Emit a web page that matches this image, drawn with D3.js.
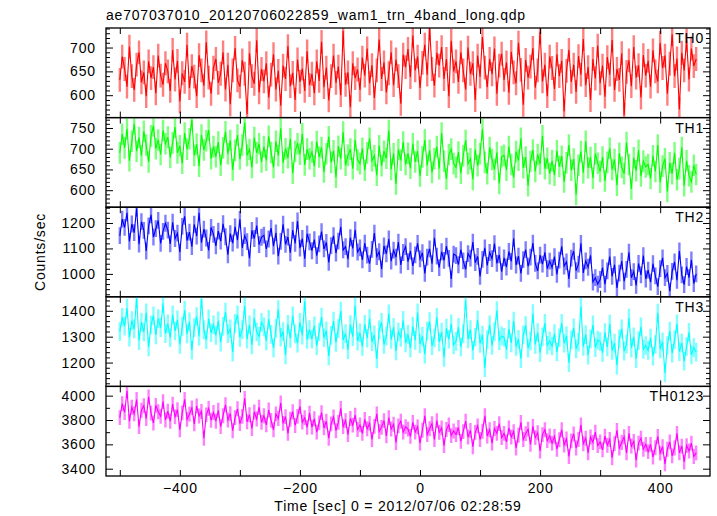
<!DOCTYPE html>
<html><head><meta charset="utf-8">
<script src="https://cdn.jsdelivr.net/npm/d3@7"></script>
<style>
body{margin:0;background:#fff;}
text{font-family:"Liberation Sans",Arial,Helvetica,sans-serif;font-size:14px;letter-spacing:0.8px;fill:#000;}
</style></head><body>
<svg id="chart" width="717" height="516"></svg>
<script>
const title = "ae707037010_20120706022859_wam1_trn_4band_long.qdp";
const xLabel = "Time [sec] 0 = 2012/07/06 02:28:59";
const yLabel = "Counts/sec";
const seriesNames = ["TH0","TH1","TH2","TH3","TH0123"];
const tStart = -500, tStep = 4;
const xTicksMajor = [-400,-200,0,200,400];
const xTicksAll = [-500,-400,-300,-200,-100,0,100,200,300,400];

const th0 = [632,681,655,618,702,640,611,664,690,627,648,598,671,636,659,604,683,641,622,667,
650,609,695,633,672,587,646,628,706,615,661,639,598,684,652,620,711,637,603,658,
676,626,645,690,612,664,581,652,699,631,618,673,645,560,688,640,624,715,606,655,
629,667,595,643,686,612,651,578,662,634,703,619,647,590,675,628,656,609,692,621,
645,604,671,630,712,617,658,589,640,683,626,660,600,735,622,648,575,667,636,654,
611,679,641,698,625,663,594,652,717,634,669,606,646,690,621,675,640,582,685,659,
697,638,725,652,681,615,668,706,643,740,655,620,689,662,701,634,676,598,714,650,
671,628,690,652,612,700,645,667,590,683,639,722,658,617,676,644,698,603,662,687,
632,669,605,691,648,625,710,653,580,674,637,660,699,616,652,733,629,664,598,681,
657,613,686,640,672,566,651,695,628,664,607,682,643,718,621,659,590,676,635,704,
625,662,597,680,643,716,611,655,632,688,558,649,673,619,701,637,663,595,684,641,
672,618,694,650,629,710,657,683,603,666,728,640,677,570,689,652,715,633,698,661,676];

const th1 = [690,735,702,748,671,718,760,694,727,683,742,709,668,731,755,700,721,686,744,712,
728,679,714,752,690,707,665,738,699,724,770,684,711,658,733,697,719,745,676,705,
681,716,660,702,741,688,720,649,696,733,675,709,763,684,698,655,727,690,712,668,
705,672,730,691,655,718,683,749,666,700,678,724,641,694,712,687,736,661,699,676,
692,658,717,680,703,644,688,729,667,695,631,706,676,740,660,684,699,652,721,673,
664,701,648,690,725,671,683,636,707,659,694,677,744,650,688,615,698,672,716,662,
689,653,712,668,694,634,680,721,660,696,643,676,705,652,738,670,627,686,699,664,
655,692,641,683,720,664,676,626,698,659,688,747,667,640,703,674,650,691,616,681,
684,648,705,662,631,693,672,725,654,680,611,669,697,645,686,663,731,652,677,640,
671,636,695,657,682,620,666,709,648,675,590,660,693,642,718,654,679,629,688,665,
645,680,622,667,701,650,674,612,689,655,640,715,662,603,678,647,696,634,670,656,
662,628,683,645,709,619,658,676,597,666,640,690,625,652,703,611,671,635,620,660,638];

const th2 = [1150,1215,1183,1240,1128,1196,1162,1258,1117,1205,1171,1090,1189,1232,1145,1178,1210,1120,1167,1199,
1172,1118,1203,1139,1160,1085,1187,1226,1131,1164,1107,1195,1148,1240,1123,1176,1141,1092,1183,1155,
1110,1168,1129,1197,1146,1075,1158,1121,1185,1133,1214,1102,1150,1127,1062,1171,1139,1190,1115,1144,
1152,1098,1137,1180,1109,1161,1070,1128,1195,1116,1145,1083,1172,1120,1208,1101,1139,1060,1157,1126,
1091,1135,1072,1118,1166,1098,1124,1045,1111,1150,1082,1129,1185,1094,1107,1058,1142,1100,1173,1086,
1102,1055,1121,1074,1040,1096,1160,1068,1087,1019,1110,1079,1137,1050,1093,1066,1125,1035,1084,1107,
1048,1090,1031,1075,1120,1059,1083,1002,1066,1098,1040,1142,1070,1025,1087,1053,1109,1061,980,1078,
1072,1036,1095,1051,1018,1080,1062,1125,1044,1069,990,1057,1102,1033,1084,1060,1119,1041,1075,1009,
1063,1027,1088,1049,1140,1035,1070,1002,1056,1095,1030,1066,1121,1041,1012,1074,1038,1085,1021,1050,
1025,1068,998,1054,1108,1031,1047,980,1062,1089,1013,1038,1120,1004,1051,1026,1073,968,985,960,
978,1025,960,1012,1068,990,1036,945,1003,1050,971,1018,1085,985,1009,955,1041,996,1072,980,
1015,968,1040,992,950,1021,1063,985,1002,932,1010,1047,975,1090,996,958,1029,985,1055,962,1000];

const th3 = [1320,1375,1341,1410,1298,1362,1330,1447,1285,1356,1318,1392,1260,1345,1381,1307,1370,1335,1428,1312,
1350,1296,1384,1322,1365,1270,1340,1402,1311,1357,1248,1335,1378,1302,1445,1326,1288,1369,1315,1346,
1305,1361,1279,1340,1395,1312,1330,1240,1352,1384,1297,1327,1418,1290,1346,1268,1372,1318,1301,1355,
1338,1284,1367,1309,1257,1332,1405,1298,1320,1230,1348,1293,1381,1311,1275,1355,1306,1437,1289,1327,
1291,1342,1265,1318,1376,1296,1323,1226,1305,1360,1278,1331,1399,1287,1312,1250,1347,1300,1420,1283,
1315,1262,1348,1294,1370,1281,1307,1214,1326,1355,1270,1302,1388,1289,1336,1245,1318,1297,1363,1276,
1309,1257,1340,1286,1392,1272,1301,1232,1322,1358,1265,1295,1375,1280,1318,1220,1333,1290,1350,1268,
1282,1336,1260,1311,1440,1291,1327,1247,1298,1365,1274,1306,1180,1289,1346,1266,1319,1401,1285,1303,
1298,1250,1329,1276,1360,1262,1290,1215,1307,1343,1256,1284,1389,1270,1316,1238,1299,1352,1267,1283,
1264,1312,1241,1296,1352,1275,1303,1200,1288,1334,1253,1279,1415,1262,1308,1229,1291,1346,1258,1287,
1281,1238,1316,1260,1349,1247,1275,1190,1292,1330,1244,1271,1372,1256,1299,1215,1285,1338,1251,1266,
1247,1295,1225,1270,1391,1253,1280,1160,1266,1322,1236,1288,1350,1242,1275,1205,1262,1317,1230,1258,1240];

const th0123 = [3820,3935,3862,4040,3790,3905,3850,3968,3745,3880,3917,3812,3990,3856,3775,3920,3868,3830,3951,3800,
3872,3790,3930,3826,3885,3720,3858,3970,3805,3848,3900,3768,3915,3833,3870,3650,3842,3895,3798,3862,
3790,3880,3745,3835,3925,3800,3852,3712,3820,3892,3770,3830,3978,3785,3843,3730,3866,3808,3905,3780,
3835,3760,3882,3797,3720,3850,3812,3940,3772,3828,3690,3806,3868,3755,3830,3910,3782,3819,3740,3857,
3742,3810,3700,3776,3860,3735,3790,3650,3768,3825,3712,3780,3895,3745,3795,3680,3812,3758,3840,3722,
3760,3690,3805,3728,3772,3640,3748,3850,3705,3740,3795,3670,3820,3726,3765,3615,3752,3790,3700,3745,
3725,3665,3780,3700,3744,3610,3716,3835,3680,3728,3770,3640,3795,3698,3735,3590,3722,3760,3672,3710,
3680,3738,3625,3705,3790,3660,3715,3580,3698,3752,3640,3708,3835,3668,3720,3610,3730,3690,3770,3655,
3690,3620,3735,3660,3705,3570,3675,3780,3640,3688,3725,3600,3748,3655,3695,3545,3680,3720,3630,3670,
3610,3665,3560,3638,3720,3595,3645,3500,3628,3685,3570,3640,3760,3605,3650,3530,3660,3615,3700,3590,
3620,3555,3668,3592,3640,3490,3606,3715,3570,3615,3662,3530,3690,3585,3625,3470,3610,3650,3560,3600,
3540,3600,3495,3572,3665,3528,3580,3440,3560,3620,3505,3570,3690,3530,3585,3455,3590,3545,3610,3500,3530];

const seriesValues = [th0, th1, th2, th3, th0123];
const errs = [25, 26, 33, 36, 61];
const yDomains = [[553,741],[559,775],[910,1262],[1108,1454],[3340,4076]];
const majorSteps = [50, 50, 100, 100, 200];
const minorSteps = [10, 10, 20, 20, 100];
const colors = ["#ff0000","#00ff00","#0000ff","#00ffff","#ff00ff"];

const svg = d3.select("#chart");
const L = 106, R = 710, T = 28, B = 476;
const ph = (B - T) / seriesNames.length;
const x = d3.scaleLinear().domain([-523, 483]).range([L, R]);
const barW = Math.abs(x(tStep) - x(0));

svg.append("text").attr("x", 106).attr("y", 20).text(title);

seriesNames.forEach((name, i) => {
  const top = T + i * ph, bot = top + ph;
  const y = d3.scaleLinear().domain(yDomains[i]).range([bot, top]);
  const vals = seriesValues[i];
  const data = vals.map((v, k) => ({t: tStart + k * tStep, v}));
  const g = svg.append("g");
  const cid = "clip" + i;
  svg.append("clipPath").attr("id", cid).append("rect")
    .attr("x", L).attr("y", top).attr("width", R - L).attr("height", ph);
  const dg = g.append("g").attr("clip-path", `url(#${cid})`);
  dg.selectAll("line.err").data(data).enter().append("line")
    .attr("x1", d => x(d.t)).attr("x2", d => x(d.t))
    .attr("y1", d => y(d.v - errs[i])).attr("y2", d => y(d.v + errs[i]))
    .attr("stroke", colors[i]).attr("stroke-opacity", 0.5).attr("stroke-width", barW);
  dg.append("path").datum(data)
    .attr("d", d3.line().x(d => x(d.t)).y(d => y(d.v)))
    .attr("fill", "none").attr("stroke", colors[i]).attr("stroke-width", 1.1);

  const [d0, d1] = yDomains[i];
  const majors = d3.range(Math.ceil(d0 / majorSteps[i]) * majorSteps[i], d1 + 1e-9, majorSteps[i]);
  const minors = d3.range(Math.ceil(d0 / minorSteps[i]) * minorSteps[i], d1 + 1e-9, minorSteps[i])
    .filter(v => v % majorSteps[i] !== 0);
  const la = g.append("g").attr("transform", `translate(${L},0)`)
    .call(d3.axisLeft(y).tickValues(majors).tickSize(-7).tickPadding(11).tickFormat(d3.format("d")));
  la.select(".domain").remove();
  la.selectAll("text").style("font-family", '"Liberation Sans",Arial,sans-serif').style("font-size", "14px").attr("dx", "0.8px");
  g.append("g").attr("transform", `translate(${L},0)`)
    .call(d3.axisLeft(y).tickValues(minors).tickSize(-4).tickFormat(""))
    .select(".domain").remove();
  g.append("g").attr("transform", `translate(${R},0)`)
    .call(d3.axisRight(y).tickValues(majors).tickSize(-7).tickFormat(""))
    .select(".domain").remove();
  g.append("g").attr("transform", `translate(${R},0)`)
    .call(d3.axisRight(y).tickValues(minors).tickSize(-4).tickFormat(""))
    .select(".domain").remove();
  g.append("g").attr("transform", `translate(0,${top})`)
    .call(d3.axisTop(x).tickValues(xTicksAll).tickSize(-6).tickFormat(""))
    .select(".domain").remove();
  const bx = g.append("g").attr("transform", `translate(0,${bot})`)
    .call(d3.axisBottom(x).tickValues(xTicksAll).tickSize(-6).tickPadding(7)
      .tickFormat(d => (i === seriesNames.length - 1 && xTicksMajor.includes(d)) ? d3.format("d")(d) : ""));
  bx.select(".domain").remove();
  bx.selectAll("text").style("font-family", '"Liberation Sans",Arial,sans-serif').style("font-size", "14px");
  g.selectAll(".tick line").attr("stroke", "#000").attr("stroke-width", 1);

  g.append("rect").attr("x", L).attr("y", top).attr("width", R - L).attr("height", ph)
    .attr("fill", "none").attr("stroke", "#000").attr("stroke-width", 1.3);
  g.append("text").attr("x", 704).attr("y", top + 15).attr("text-anchor", "end").text(name);
});

svg.append("text").attr("x", 398).attr("y", 511).attr("text-anchor", "middle").text(xLabel);
svg.append("text").attr("transform", "translate(45,252) rotate(-90)").attr("text-anchor", "middle").text(yLabel);
</script>
</body></html>
